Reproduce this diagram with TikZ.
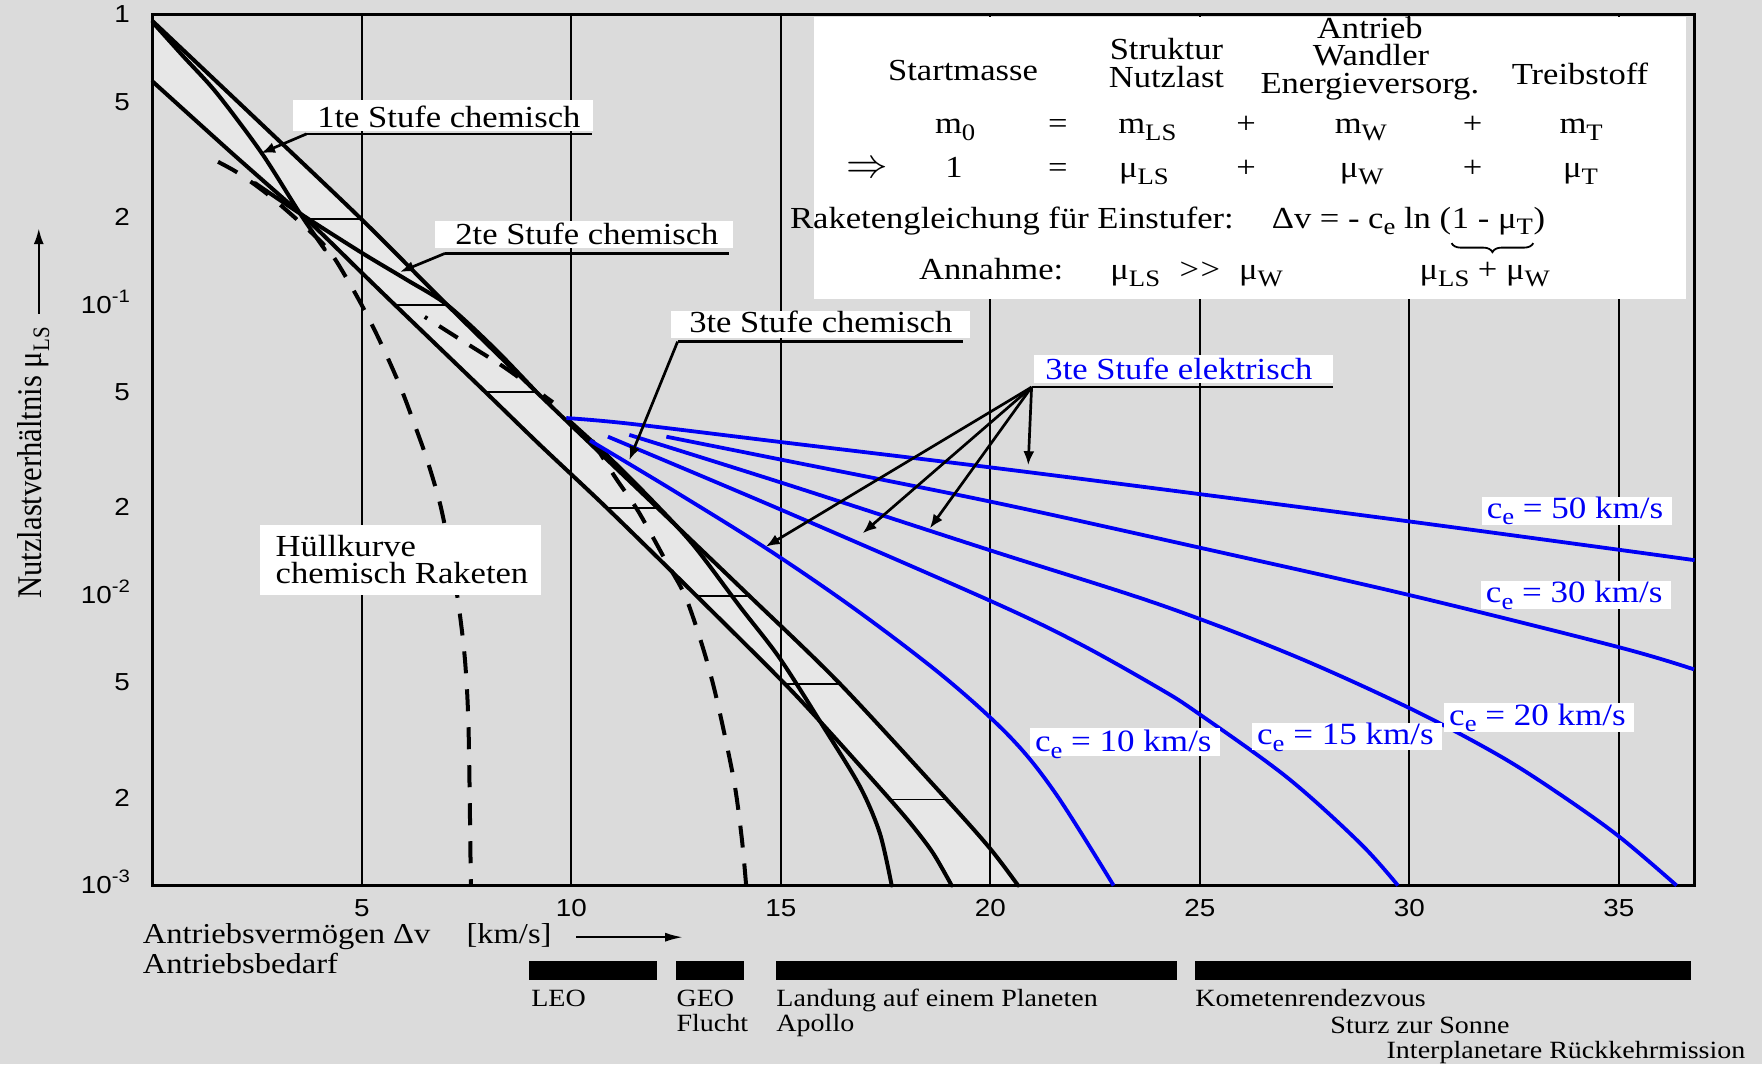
\documentclass[tikz,border=0pt]{standalone}
\usepackage{fontspec}
\setmainfont[FakeStretch=1.13]{Liberation Serif}
\newfontfamily\rotfont[FakeStretch=0.885]{Liberation Serif}
\newfontfamily\axfont[FakeStretch=1.13]{Liberation Sans}
\usetikzlibrary{arrows.meta,decorations.pathreplacing}
\definecolor{bgc}{RGB}{219,219,219}
\definecolor{bandc}{RGB}{231,231,231}
\definecolor{eblue}{RGB}{0,0,245}
\newcommand\FS[1]{\fontsize{#1}{#1}\selectfont}
\newcommand\lo[1]{\raisebox{-0.22em}{\fontsize{11.8}{12}\selectfont #1}}
\newcommand\tenp[1]{10\raisebox{0.45em}{\fontsize{9}{9}\selectfont #1}}
\begin{document}
\begin{tikzpicture}[x=0.5618pt,y=-0.5618pt,
  gridl/.style={line width=1.1pt},
  framel/.style={line width=1.4pt},
  curve/.style={line width=2pt,line join=round,line cap=round},
  dashedc/.style={line width=2pt,dash pattern=on 11pt off 8pt},
  ddc/.style={line width=2pt,dash pattern=on 1.5pt off 7pt on 11pt off 7pt on 11pt off 7pt on 11pt off 7pt},
  bcurve/.style={line width=1.9pt,draw=eblue,line join=round},
  hatchl/.style={line width=0.9pt},
  arr/.style={line width=1.35pt,-{Latex[length=7pt,width=5.5pt]}},
  uline/.style={line width=1.35pt},
  lab/.style={inner sep=0pt,anchor=base west,font=\FS{15.3}},
  blab/.style={inner sep=0pt,anchor=base west,font=\FS{15.5},text=eblue},
  fx/.style={inner sep=0pt,anchor=base,font=\FS{15.3}},
  ticklab/.style={inner sep=0pt,font=\axfont\FS{12.3}},
  botlab/.style={inner sep=0pt,anchor=base west,font=\FS{14.4}},
  barlab/.style={inner sep=0pt,anchor=base west,font=\FS{12.4}},
]
\useasboundingbox (0,0) rectangle (1568,947);
\fill[bgc] (0,0) rectangle (1568,947);

% shaded band
\fill[bandc] plot[smooth,tension=0.5] coordinates {(136,19) (228,106) (321.8,195.2) (398,271.4) (477,348.5) (585,451.8) (667,530.4) (747.5,608.5) (842.4,711.4) (881,755) (906,788)}
 -- plot[smooth,tension=0.5] coordinates {(846.9,788) (830.5,759.4) (812.7,735.7) (792,711.4) (741.6,655) (698.6,608.7) (620,530.4) (540,452) (480.6,396) (431.6,348.5) (351.5,271.4) (321.8,242.6) (272.9,195.2) (205,135) (136,72.7)} -- cycle;

% grid and frame
\foreach \v [count=\i] in {5,10,...,35} \draw[gridl] ({135.5+37.29*\v},13) -- ({135.5+37.29*\v},788);
\draw[framel] (136,13) rectangle (1508,788);

% formula box
\fill[white] (724,15.5) rectangle (1500,266);

% chemical curves
\draw[curve] plot[smooth,tension=0.5] coordinates {(136,19) (228,106) (321.8,195.2) (398,271.4) (477,348.5) (585,451.8) (667,530.4) (747.5,608.5) (842.4,711.4) (881,755) (906,788)};
\draw[curve] plot[smooth,tension=0.5] coordinates {(136,72.7) (205,135) (272.9,195.2) (321.8,242.6) (351.5,271.4) (431.6,348.5) (480.6,396) (540,452) (620,530.4) (698.6,608.7) (741.6,655) (792,711.4) (812.7,735.7) (830.5,759.4) (846.9,788)};
\draw[curve] plot[smooth,tension=0.5] coordinates {(136,20) (163,50) (193,83) (233,136.4) (267,190) (289,222)};
\draw[curve] plot[smooth,tension=0.5] coordinates {(227,163) (267,190) (322,225) (362,249) (398,271.4) (440,310) (477,348.5)};
\draw[curve] plot[smooth,tension=0.5] coordinates {(505,373) (540,405) (580,445) (617,485) (658.6,540) (694,585.9) (732.7,646.7) (765.3,700) (783,741.6) (793.5,788)};
\draw[dashedc] plot[smooth,tension=0.5] coordinates {(194,144) (212,154) (237,172) (265,196) (292,222) (311,252) (328,283) (343,314) (357,346) (369,378) (380,409) (392,450) (402,500) (409,545) (414,590) (417,650) (419,788)};
\draw[dashedc] plot[smooth,tension=0.5] coordinates {(527,392) (547,424) (568,455) (593,500) (610,531) (626,578) (638,623) (653,694) (660,745) (664,788)};
\draw[ddc] plot[smooth,tension=0.5] coordinates {(378,282) (415,305.5) (448,326.3) (475,345.6) (492,358)};

% hatches
\draw[hatchl] (272.9,195.2) -- (321.8,195.2);
\draw[hatchl] (351.5,271.4) -- (398,271.4);
\draw[hatchl] (431.6,348.5) -- (477,348.5);
\draw[hatchl] (540,451.8) -- (585,451.8);
\draw[hatchl] (620,530.4) -- (667,530.4);
\draw[hatchl] (698,608.5) -- (747.5,608.5);
\draw[hatchl] (792,711.4) -- (842.4,711.4);

% electric curves
\draw[bcurve] plot[smooth,tension=0.55] coordinates {(504,372) (560,377) (700,394) (882,416) (1066,439.5) (1254,464) (1439,489) (1508,498.5)};
\draw[bcurve] plot[smooth,tension=0.55] coordinates {(593,388.6) (695,409) (882,446.5) (1066,487) (1254,529.5) (1439,575.5) (1507.5,595.7)};
\draw[bcurve] plot[smooth,tension=0.55] coordinates {(560,387) (700,431) (882,490) (1032,538) (1150,583) (1254,630) (1330,670) (1381,702) (1439,743) (1492,788)};
\draw[bcurve] plot[smooth,tension=0.55] coordinates {(541,388.6) (695,453.6) (882,535) (960,572.5) (1032,612.8) (1066,634.6) (1145,691.5) (1210,750) (1244,788)};
\draw[bcurve] plot[smooth,tension=0.55] coordinates {(525,392) (600,437) (685,490) (765,545) (842,604) (900,657) (940,707) (991,788)};

% labels on the chart
\fill[white] (261,89) rectangle (528,117);
\node[lab] (s1) at (282,113.5) {1te Stufe chemisch};
\coordinate (s1a) at (272.7,119.2);
\draw[uline] (s1a) -- (526.8,119.2);
\coordinate (s1t) at (232.3,136.4);
\draw[arr] (s1a) -- (s1t);

\fill[white] (387,197) rectangle (652,221);
\node[lab] (s2) at (404.9,217.5) {2te Stufe chemisch};
\coordinate (s2a) at (396,225.5);
\draw[uline] (s2a) -- (649,225.5);
\coordinate (s2t) at (356,242);
\draw[arr] (s2a) -- (s2t);

\fill[white] (597,277) rectangle (863,301);
\node[lab] (s3) at (613,296) {3te Stufe chemisch};
\coordinate (s3a) at (603,304);
\draw[uline] (s3a) -- (857,304);
\coordinate (s3t) at (560,409.5);
\draw[arr] (s3a) -- (s3t);

\fill[white] (920,316) rectangle (1186,341);
\node[lab,text=eblue] (s4) at (930,337.5) {3te Stufe elektrisch};
\coordinate (s4a) at (918,344.5);
\draw[uline] (s4a) -- (1186,344.5);
\coordinate (e1) at (915,414);
\coordinate (e2) at (827.4,470.2);
\coordinate (e3) at (767.6,474.6);
\coordinate (e4) at (681.4,486.5);
\foreach \t in {e1,e2,e3,e4} \draw[arr] (s4a) -- (\t);

\fill[white] (231.5,467) rectangle (481,529.5);
\node[lab] (h1) at (245,495) {Hüllkurve};
\node[lab] (h2) at (245,519.5) {chemisch Raketen};

\fill[white] (1319,442) rectangle (1488,467);
\node[blab] (c50) at (1322.7,461) {c\lo{e} = 50 km/s};
\fill[white] (1317.6,517) rectangle (1487,542);
\node[blab] (c30) at (1322,536.3) {c\lo{e} = 30 km/s};
\fill[white] (1285,626) rectangle (1454,651);
\node[blab] (c20) at (1289.3,645.2) {c\lo{e} = 20 km/s};
\fill[white] (1114,643) rectangle (1283,667);
\node[blab] (c15) at (1118.4,662.4) {c\lo{e} = 15 km/s};
\fill[white] (917,648) rectangle (1086,673);
\node[blab] (c10) at (920.7,668.5) {c\lo{e} = 10 km/s};

% formula box text
\node[fx] (f1) at (857,71.5) {Startmasse};
\node[fx] (f2) at (1038,53) {Struktur};
\node[fx] (f3) at (1038,78) {Nutzlast};
\node[fx] (f4) at (1219,34) {Antrieb};
\node[fx] (f5) at (1220,58.5) {Wandler};
\node[fx] (f6) at (1219,83) {Energieversorg.};
\node[fx] (f7) at (1406,75.6) {Treibstoff};
\node[fx] (r1) at (850,118.6) {m\lo{0}};
\node[fx] (r2) at (941.5,118.6) {=};
\node[fx] (r3) at (1021,118.6) {m\lo{LS}};
\node[fx] (r4) at (1109,118.6) {+};
\node[fx] (r5) at (1211,118.6) {m\lo{W}};
\node[fx] (r6) at (1310.5,118.6) {+};
\node[fx] (r7) at (1407,118.6) {m\lo{T}};
\node[fx,font=\FS{21}] (q0) at (772,158) {$\Rightarrow$};
\node[fx] (q1) at (849,158) {1};
\node[fx] (q2) at (941.5,158) {=};
\node[fx] (q3) at (1018,158) {μ\lo{LS}};
\node[fx] (q4) at (1109,158) {+};
\node[fx] (q5) at (1211.7,158) {μ\lo{W}};
\node[fx] (q6) at (1310.5,158) {+};
\node[fx] (q7) at (1406.5,158) {μ\lo{T}};
\node[fx,anchor=base west] (g1) at (702.8,203) {Raketengleichung für Einstufer:};
\node[fx,anchor=base west] (eqa) at (1131.4,203) {Δv = - c\lo{e} ln (};
\node[fx,anchor=base west] (eqb) at (eqa.base east) {1 - μ\lo{T}};
\node[fx,anchor=base west] (eqc) at (eqb.base east) {)};
\draw[line width=0.9pt,decorate,decoration={brace,mirror,amplitude=4.5pt}] ([yshift=-7.5pt]eqb.base west) -- ([yshift=-7.5pt]eqb.base east);
\node[fx,anchor=base west] (a1) at (817.6,249) {Annahme:};
\node[fx,anchor=base west] (a2) at (987.8,249) {μ\lo{LS}};
\node[fx,anchor=base west] (a3) at (1049.4,249) {\mbox{>}\kern0.05em\mbox{>}};
\node[fx,anchor=base west] (a4) at (1102.3,249) {μ\lo{W}};
\node[fx,anchor=base west] (a5) at (1263,249) {μ\lo{LS} + μ\lo{W}};

% axis tick labels
\foreach \yy/\lbl [count=\i] in {13/1, 90.8/5, 193.5/2, 271.3/{\tenp{-1}}, 349.1/5, 451.8/2, 529.6/{\tenp{-2}}, 607.4/5, 710.1/2, 788/{\tenp{-3}}}
  \node[ticklab,anchor=base east] (yl\i) at (116,{\yy+7.3}) {\lbl};
\foreach \v [count=\i] in {5,10,...,35}
  \node[ticklab,anchor=base] (xl\i) at ({135.5+37.29*\v},816) {\v};

% y axis title
\node[inner sep=0pt,rotate=90,anchor=base,font=\rotfont\FS{17.3}] (ytitle) at (37,412) {Nutzlastverhältnis μ\lo{LS}};
\coordinate (ya0) at (34.5,279);
\coordinate (ya1) at (34.5,203);
\draw[line width=1.2pt,-{Latex[length=8pt,width=5pt]}] (ya0) -- (ya1);

% x axis title
\node[botlab] (xt1) at (126.7,839.5) {Antriebsvermögen Δv};
\node[botlab] (xt2) at (414.8,839.5) {[km/s]};
\coordinate (xa0) at (513,834);
\coordinate (xa1) at (608,834);
\draw[line width=1.2pt,-{Latex[length=9pt,width=4.5pt]}] (xa0) -- (xa1);
\node[botlab] (xt3) at (126.7,866) {Antriebsbedarf};

% bars
\fill (471,855) rectangle (585,872);
\fill (601.7,855) rectangle (662.5,872);
\fill (690.6,855) rectangle (1047.4,872);
\fill (1063.4,855) rectangle (1505,872);
\node[barlab] (b1) at (472.5,895.8) {LEO};
\node[barlab] (b2) at (601.7,895.8) {GEO};
\node[barlab] (b3) at (601.7,918) {Flucht};
\node[barlab] (b4) at (690.6,895.8) {Landung auf einem Planeten};
\node[barlab] (b5) at (690.6,918) {Apollo};
\node[barlab] (b6) at (1063.4,895.8) {Kometenrendezvous};
\node[barlab] (b7) at (1183.6,919.5) {Sturz zur Sonne};
\node[barlab] (b8) at (1233.6,941.8) {Interplanetare Rückkehrmission};
\end{tikzpicture}
\end{document}
